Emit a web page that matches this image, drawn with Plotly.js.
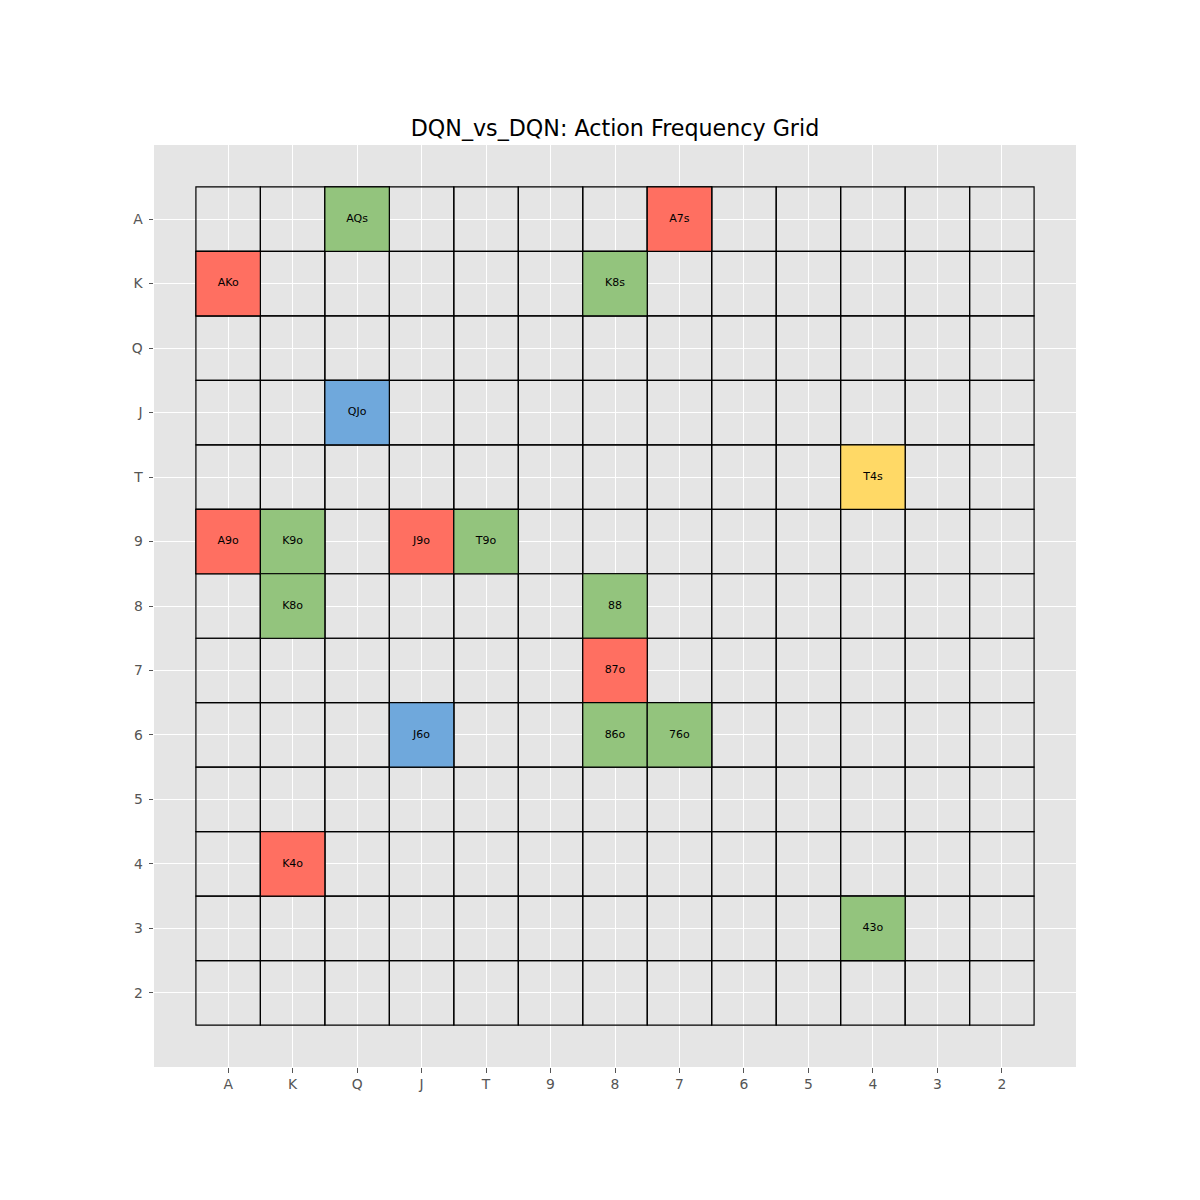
<!DOCTYPE html>
<html>
<head>
<meta charset="utf-8">
<script src="https://cdn.plot.ly/plotly-3.0.1.min.js"></script>
<style>html,body{margin:0;padding:0;background:#fff;}#chart{width:1200px;height:1200px;}</style>
</head>
<body>
<div id="chart"></div>
<script>
const ranks = ['A','K','Q','J','T','9','8','7','6','5','4','3','2'];
const handLabels = ['AQs','A7s','AKo','K8s','QJo','T4s','A9o','K9o','J9o','T9o','K8o','88','87o','J6o','86o','76o','K4o','43o'];
const handRows   = ['A','A','K','K','J','T','9','9','9','9','8','8','7','6','6','6','4','3'];
const handCols   = ['Q','7','A','8','Q','4','A','K','J','T','K','8','8','J','8','7','K','4'];
const handActions = ['green','red','red','green','blue','yellow','red','green','red','green','green','green','red','blue','green','green','red','green'];
const actionColors = {red:'#FF6F61', green:'#93C47D', blue:'#6FA8DC', yellow:'#FFD966'};

const shapes = [];
// empty grid cells
for (let r = 0; r < ranks.length; r++) {
  for (let c = 0; c < ranks.length; c++) {
    shapes.push({type:'rect', xref:'x', yref:'y', x0:c-0.5, x1:c+0.5, y0:r-0.5, y1:r+0.5,
      fillcolor:'rgba(0,0,0,0)', line:{color:'#000', width:1.2}, layer:'between'});
  }
}
const tx = [], ty = [];
for (let i = 0; i < handLabels.length; i++) {
  const r = ranks.indexOf(handRows[i]);
  const c = ranks.indexOf(handCols[i]);
  shapes.push({type:'rect', xref:'x', yref:'y', x0:c-0.5, x1:c+0.5, y0:r-0.5, y1:r+0.5,
    fillcolor:actionColors[handActions[i]], line:{color:'#000', width:1.2}, layer:'between'});
  tx.push(c); ty.push(r);
}

const trace = {
  type:'scatter', mode:'text', x:tx, y:ty, text:handLabels,
  textfont:{family:'DejaVu Sans', size:11, color:'#000'},
  hoverinfo:'skip', showlegend:false, cliponaxis:false
};

const axisCommon = {
  tickmode:'array', tickvals:ranks.map((_, i) => i), ticktext:ranks,
  showgrid:true, gridcolor:'#FFFFFF', gridwidth:1, zeroline:false,
  ticks:'outside', ticklen:4.5, tickwidth:1, tickcolor:'#555555',
  tickfont:{family:'DejaVu Sans', size:13.9, color:'#555555'},
  showline:false, fixedrange:true
};

const layout = {
  width:1200, height:1200,
  margin:{l:154, r:124, t:145, b:133},
  paper_bgcolor:'#FFFFFF', plot_bgcolor:'#E5E5E5',
  title:{text:'DQN_vs_DQN: Action Frequency Grid', font:{family:'DejaVu Sans', size:22.2, color:'#000'},
    x:0.5, xref:'paper', xanchor:'center', y:1-128/1200, yref:'container', yanchor:'middle'},
  xaxis:Object.assign({}, axisCommon, {range:[-1.15, 13.15]}),
  yaxis:Object.assign({}, axisCommon, {range:[13.15, -1.15], ticklabelstandoff:3}),
  shapes:shapes,
  showlegend:false
};

Plotly.newPlot('chart', [trace], layout, {displayModeBar:false, staticPlot:true});
</script>
</body>
</html>
